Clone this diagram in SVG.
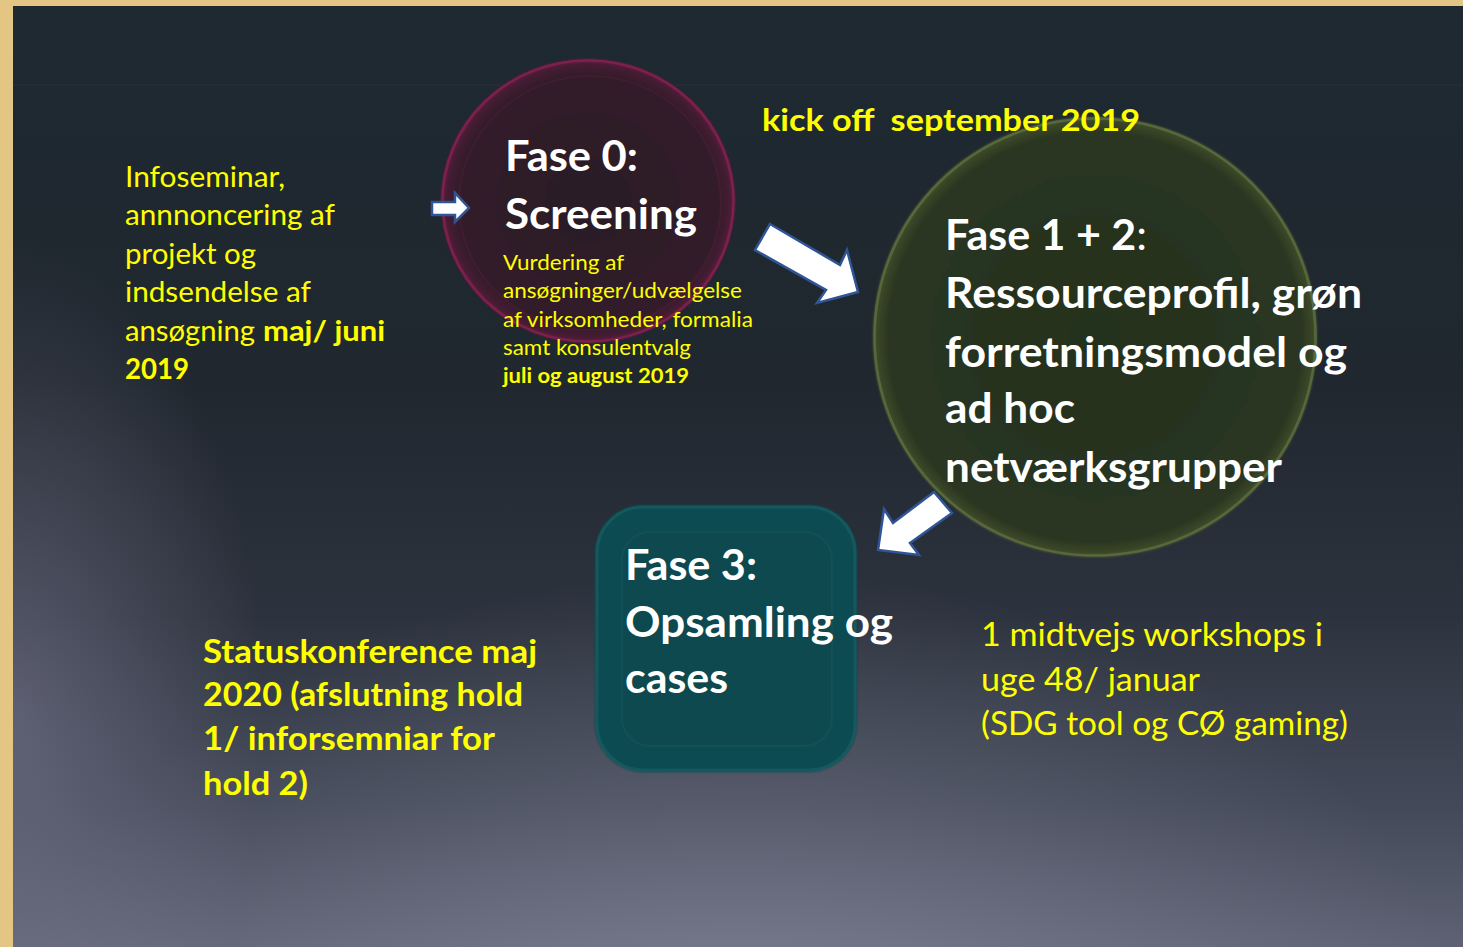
<svg xmlns="http://www.w3.org/2000/svg" width="1463" height="947" viewBox="0 0 1463 947">
<style>
text{font-family:"Lato","Open Sans","Liberation Sans",sans-serif;white-space:pre}
.w{fill:#ffffff;font-weight:bold;font-size:42px}
.y{fill:#ffff00}
.b{font-weight:bold}
.arrow{fill:#ffffff;stroke:#2f5597;stroke-width:2.5;stroke-linejoin:miter}
</style>
<defs>
<linearGradient id="bg" x1="0" y1="0" x2="0" y2="1">
<stop offset="0" stop-color="#1e2931"/>
<stop offset="0.4" stop-color="#20272f"/>
<stop offset="0.65" stop-color="#2d333e"/>
<stop offset="0.85" stop-color="#434958"/>
<stop offset="1" stop-color="#5e6274"/>
</linearGradient>
<radialGradient id="glow" cx="0.5" cy="1.1" r="0.5">
<stop offset="0" stop-color="#9a9aae" stop-opacity="0.45"/>
<stop offset="1" stop-color="#9a9aae" stop-opacity="0"/>
</radialGradient>
<radialGradient id="leftGlow" cx="0" cy="0.75" r="0.5">
<stop offset="0" stop-color="#8c88a2" stop-opacity="0.45"/>
<stop offset="1" stop-color="#8c88a2" stop-opacity="0"/>
</radialGradient>
<radialGradient id="pink" cx="0.5" cy="0.5" r="0.5">
<stop offset="0" stop-color="#2a1b26"/>
<stop offset="0.88" stop-color="#321b2a"/>
<stop offset="0.965" stop-color="#461b33"/>
<stop offset="1" stop-color="#6e1e42"/>
</radialGradient>
<radialGradient id="green" cx="0.5" cy="0.5" r="0.5">
<stop offset="0" stop-color="#24301e"/>
<stop offset="0.93" stop-color="#2a3621"/>
<stop offset="0.985" stop-color="#3b4829"/>
<stop offset="1" stop-color="#52613a"/>
</radialGradient>
<filter id="soft" x="-5%" y="-5%" width="110%" height="110%">
<feGaussianBlur stdDeviation="1"/>
</filter>
</defs>
<rect x="0" y="0" width="1463" height="947" fill="#e4c684"/>
<g id="background">
<rect x="13" y="6" width="1450" height="941" fill="url(#bg)"/>
<rect x="13" y="6" width="1450" height="941" fill="url(#glow)"/>
<rect x="13" y="6" width="500" height="941" fill="url(#leftGlow)"/>
<line x1="13" y1="85" x2="1463" y2="85" stroke="#34404a" stroke-width="1" opacity="0.35"/>
</g>
<g id="fase0">
<ellipse cx="588" cy="201" rx="147" ry="142" fill="url(#pink)" filter="url(#soft)"/>
<ellipse cx="588" cy="201" rx="145.5" ry="140.5" fill="none" stroke="#842150" stroke-width="2.5" opacity="0.85"/>
<ellipse cx="590" cy="203" rx="131" ry="127" fill="none" stroke="#4e1d38" stroke-width="2" opacity="0.5"/>
<text class="w" x="505" y="171" textLength="133" lengthAdjust="spacingAndGlyphs">Fase 0:</text>
<text class="w" x="505" y="229" textLength="192" lengthAdjust="spacingAndGlyphs">Screening</text>
<g class="y" font-size="21">
<text x="503" y="270" class="y" textLength="121" lengthAdjust="spacingAndGlyphs">Vurdering af</text>
<text x="503" y="298" class="y" textLength="239" lengthAdjust="spacingAndGlyphs">ansøgninger/udvælgelse</text>
<text x="503" y="327" class="y" textLength="250" lengthAdjust="spacingAndGlyphs">af virksomheder, formalia</text>
<text x="503" y="355" class="y" textLength="188" lengthAdjust="spacingAndGlyphs">samt konsulentvalg</text>
<text x="503" y="383" class="y b" textLength="186" lengthAdjust="spacingAndGlyphs">juli og august 2019</text>
</g>
</g>
<g id="fase12">
<ellipse cx="1095" cy="337" rx="222" ry="220" fill="url(#green)" filter="url(#soft)"/>
<ellipse cx="1095" cy="337" rx="220.5" ry="218.5" fill="none" stroke="#5c6c3c" stroke-width="2.5" opacity="0.85"/>
<text class="w" x="945" y="250" textLength="202" lengthAdjust="spacingAndGlyphs">Fase 1 + 2<tspan font-weight="normal">:</tspan></text>
<text class="w" x="945" y="308" textLength="417" lengthAdjust="spacingAndGlyphs">Ressourceprofil, grøn</text>
<text class="w" x="945" y="367" textLength="402" lengthAdjust="spacingAndGlyphs">forretningsmodel og</text>
<text class="w" x="945" y="423" textLength="130" lengthAdjust="spacingAndGlyphs">ad hoc</text>
<text class="w" x="945" y="482" textLength="337" lengthAdjust="spacingAndGlyphs">netværksgrupper</text>
</g>
<g id="kickoff">
<text class="y b" font-size="31" x="762" y="131" textLength="378" lengthAdjust="spacingAndGlyphs">kick off  september 2019</text>
</g>
<g id="fase3">
<rect x="595" y="505" width="262" height="267" rx="48" ry="48" fill="#0f4c52" filter="url(#soft)"/>
<rect x="597" y="507" width="258" height="263" rx="46" ry="46" fill="none" stroke="#196266" stroke-width="3" opacity="0.6"/>
<rect x="622" y="532" width="210" height="214" rx="28" ry="28" fill="#0e494e" stroke="#155559" stroke-width="2" opacity="0.6"/>
<text class="w" x="625" y="580" textLength="132" lengthAdjust="spacingAndGlyphs">Fase 3:</text>
<text class="w" x="625" y="637" textLength="268" lengthAdjust="spacingAndGlyphs">Opsamling og</text>
<text class="w" x="625" y="693" textLength="103" lengthAdjust="spacingAndGlyphs">cases</text>
</g>
<g id="infoseminar" class="y" font-size="28">
<text class="y" x="125" y="187" textLength="160" lengthAdjust="spacingAndGlyphs">Infoseminar,</text>
<text class="y" x="125" y="225" textLength="210" lengthAdjust="spacingAndGlyphs">annnoncering af</text>
<text class="y" x="125" y="264" textLength="131" lengthAdjust="spacingAndGlyphs">projekt og</text>
<text class="y" x="125" y="302" textLength="186" lengthAdjust="spacingAndGlyphs">indsendelse af</text>
<text class="y" x="125" y="341" textLength="130" lengthAdjust="spacingAndGlyphs">ansøgning</text>
<text class="y b" x="263" y="341" textLength="122" lengthAdjust="spacingAndGlyphs">maj/ juni</text>
<text class="y b" x="125" y="379" textLength="64" lengthAdjust="spacingAndGlyphs">2019</text>
</g>
<g id="statuskonference" font-size="33">
<text class="y b" x="203" y="663" textLength="334" lengthAdjust="spacingAndGlyphs">Statuskonference maj</text>
<text class="y b" x="203" y="706" textLength="320" lengthAdjust="spacingAndGlyphs">2020 (afslutning hold</text>
<text class="y b" x="203" y="750" textLength="292" lengthAdjust="spacingAndGlyphs">1/ inforsemniar for</text>
<text class="y b" x="203" y="795" textLength="105" lengthAdjust="spacingAndGlyphs">hold 2)</text>
</g>
<g id="workshops" font-size="33">
<text class="y" x="981" y="646" textLength="342" lengthAdjust="spacingAndGlyphs">1 midtvejs workshops i</text>
<text class="y" x="981" y="691" textLength="219" lengthAdjust="spacingAndGlyphs">uge 48/ januar</text>
<text class="y" x="981" y="735" textLength="367" lengthAdjust="spacingAndGlyphs">(SDG tool og CØ gaming)</text>
</g>
<g id="connectors">
<polygon class="arrow" points="432,202 455,202 455,193 469,208 455,222 455,215 432,215"/>
<polygon class="arrow" points="770,224 840,265 847,250 858,292 817,303 826,290 755,250"/>
<polygon class="arrow" points="934,492 952,513 910,543 919,555 878,550 884,509 893,523"/>
</g>
</svg>
